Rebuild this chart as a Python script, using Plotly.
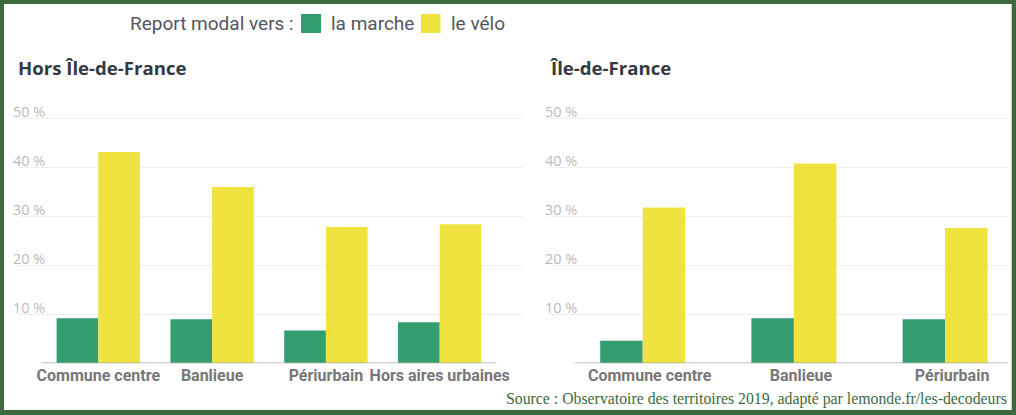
import plotly.graph_objects as go

# ---- data ----
cats_hors = ["Commune centre", "Banlieue", "Périurbain", "Hors aires urbaines"]
marche_hors = [9.2, 9.0, 6.7, 8.4]
velo_hors = [43.1, 36.0, 27.8, 28.4]

cats_idf = ["Commune centre", "Banlieue", "Périurbain"]
marche_idf = [4.6, 9.2, 9.0]
velo_idf = [31.8, 40.8, 27.6]

y_ticks = [0, 10, 20, 30, 40, 50]
y_ticktext = ["", "10 %", "20 %", "30 %", "40 %", "50 %"]

series_names = ["la marche", "le vélo"]
titles = ["Hors Île-de-France", "Île-de-France"]
legend_title = "Report modal vers :"
source = "Source : Observatoire des territoires 2019, adapté par lemonde.fr/les-decodeurs"

# ---- style ----
W, H = 1016, 415
GREEN = "#339d70"
YELLOW = "#f0e23f"
BORDER = "#3d6840"
SANS = "Roboto"


def px(x):
    return x / W


def py(y):
    return (H - y) / H


fig = go.Figure()

fig.add_trace(go.Bar(x=list(range(len(cats_hors))), y=marche_hors, name=series_names[0],
                     marker=dict(color=GREEN, line=dict(width=0)), xaxis="x", yaxis="y"))
fig.add_trace(go.Bar(x=list(range(len(cats_hors))), y=velo_hors, name=series_names[1],
                     marker=dict(color=YELLOW, line=dict(width=0)), xaxis="x", yaxis="y"))
fig.add_trace(go.Bar(x=list(range(len(cats_idf))), y=marche_idf, name=series_names[0],
                     marker=dict(color=GREEN, line=dict(width=0)), xaxis="x2", yaxis="y2"))
fig.add_trace(go.Bar(x=list(range(len(cats_idf))), y=velo_idf, name=series_names[1],
                     marker=dict(color=YELLOW, line=dict(width=0)), xaxis="x2", yaxis="y2"))

PX_PER_UNIT = 4.9
y_bottom_px = 363.3
y_range = [0, 59]
y_top_px = y_bottom_px - y_range[1] * PX_PER_UNIT

yaxis_common = dict(
    range=y_range, domain=[py(y_bottom_px), py(y_top_px)],
    tickvals=y_ticks, ticktext=y_ticktext,
    ticklabelposition="inside top", ticklabelstandoff=-8, ticklabelshift=4,
    showgrid=True, gridcolor="#eeeeee", gridwidth=1,
    zeroline=False, showline=False, ticks="",
    tickfont=dict(family="Open Sans", size=14.5, color="#bbbbbb"),
    fixedrange=True,
)
xaxis_common = dict(
    showgrid=False, zeroline=False, showline=False, ticks="",
    tickfont=dict(family=SANS, size=16, color="#777777", weight="bold"),
    ticklabelstandoff=1,
    fixedrange=True,
)

left_range = [-0.7056, 3.732]
right_range = [-0.613, 2.416]

fig.update_layout(
    width=W, height=H,
    margin=dict(l=0, r=0, t=0, b=0),
    paper_bgcolor=BORDER,
    plot_bgcolor="rgba(0,0,0,0)",
    barmode="group",
    showlegend=False,
    xaxis=dict(domain=[px(18), px(523)], range=left_range,
               tickvals=list(range(len(cats_hors))), ticktext=cats_hors,
               anchor="y", **xaxis_common),
    yaxis=dict(anchor="x", **yaxis_common),
    xaxis2=dict(domain=[px(550), px(1008)], range=right_range,
                tickvals=list(range(len(cats_idf))), ticktext=cats_idf,
                ticklabelshift=7, anchor="y2", **xaxis_common),
    yaxis2=dict(anchor="x2", **yaxis_common),
)

# bar widths: left bars ~41.7 px each at 113.8 px/unit; right ~42.5 px at 151.2 px/unit
for i, tr in enumerate(fig.data):
    w = 41.7 / 113.8 if tr.xaxis == "x" else 42.5 / 151.2
    tr.width = w
    tr.offset = -w if i % 2 == 0 else 0

shapes = [
    dict(type="rect", xref="paper", yref="paper", x0=px(4), x1=px(1011.7),
         y0=py(410), y1=py(4), fillcolor="white", line=dict(width=0), layer="below"),
    dict(type="line", xref="x", yref="y", x0=-0.5, x1=len(cats_hors) - 0.5, y0=0, y1=0,
         line=dict(color="#aaaaaa", width=1.5)),
    dict(type="line", xref="x2", yref="y2", x0=-0.45, x1=right_range[1], y0=0, y1=0,
         line=dict(color="#aaaaaa", width=1.5)),
    dict(type="rect", xref="paper", yref="paper", x0=px(301), x1=px(321),
         y0=py(33), y1=py(14), fillcolor=GREEN, line=dict(width=0)),
    dict(type="rect", xref="paper", yref="paper", x0=px(421), x1=px(440.5),
         y0=py(33), y1=py(14), fillcolor=YELLOW, line=dict(width=0)),
]

LEG_FONT = dict(family=SANS, size=19, color="#52585f")
TITLE_FONT = dict(family="Open Sans", size=18.6, color="#333a42", weight="bold")
annotations = [
    dict(text=legend_title, x=px(128), y=py(23.5), xanchor="left", yanchor="middle", font=LEG_FONT),
    dict(text=series_names[0], x=px(329), y=py(23.5), xanchor="left", yanchor="middle", font=LEG_FONT),
    dict(text=series_names[1], x=px(449), y=py(23.5), xanchor="left", yanchor="middle", font=LEG_FONT),
    dict(text=titles[0], x=px(16), y=py(68), xanchor="left", yanchor="middle", font=TITLE_FONT),
    dict(text=titles[1], x=px(548), y=py(68), xanchor="left", yanchor="middle", font=TITLE_FONT),
    dict(text=source, x=px(1009), y=py(399), xanchor="right", yanchor="middle",
         font=dict(family="Liberation Serif", size=15.8, color="#3d6b3d")),
]
for a in annotations:
    a.update(xref="paper", yref="paper", showarrow=False)

fig.update_layout(shapes=shapes, annotations=annotations)

fig.write_html(
    "out.html",
    config=dict(displayModeBar=False),
    post_script="document.body.style.margin='0';document.body.style.overflow='hidden';",
)
